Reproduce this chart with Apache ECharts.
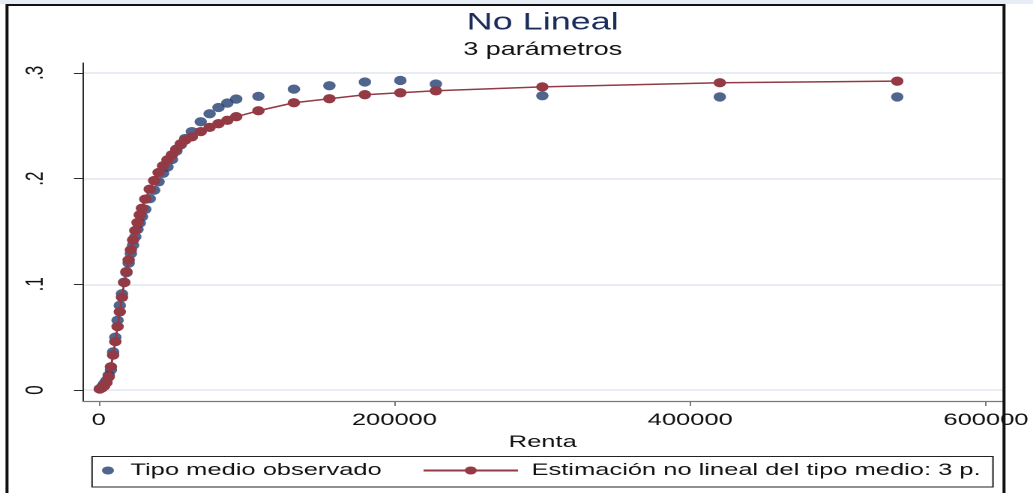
<!DOCTYPE html>
<html>
<head>
<meta charset="utf-8">
<script src="https://cdn.jsdelivr.net/npm/echarts@6/dist/echarts.min.js"></script>
<style>
  html, body { margin: 0; padding: 0; background: #ffffff; overflow: hidden; }
  /* the chart is laid out on a narrow canvas and widened to the page width */
  #chart { width: 689px; height: 493px; transform: scaleX(1.49927); transform-origin: 0 0; }
</style>
</head>
<body>
<div id="chart"></div>
<script>
// Renta (income) values of each observation
const renta = [750, 2250, 3750, 5250, 6750, 8250, 9750, 11250, 12750, 14250,
  15750, 17250, 18750, 20250, 21750, 23250, 24750, 26250, 27750, 29250,
  31500, 34500, 37500, 40500, 43500, 46500, 49500, 52500, 55500, 58500,
  63000, 69000, 75000, 81000, 87000, 93000,
  108000, 132000, 156000, 180000, 204000, 228000,
  300000, 420000, 540000];

// observed average rate
const tipoObservado = [0.001, 0.003, 0.006, 0.009, 0.014, 0.019, 0.036, 0.050, 0.066, 0.080,
  0.091, 0.102, 0.111, 0.120, 0.129, 0.137, 0.145, 0.152, 0.158, 0.164,
  0.171, 0.181, 0.189, 0.197, 0.205, 0.211, 0.218, 0.226, 0.232, 0.238,
  0.2445, 0.2538, 0.2614, 0.2673, 0.2715, 0.2753,
  0.2778, 0.2847, 0.2879, 0.2914, 0.2929, 0.2895,
  0.2784, 0.2773, 0.2773];

// non-linear (3 parameter) estimate of the average rate
const tipoEstimado = [0.001, 0.002, 0.004, 0.007, 0.0125, 0.022, 0.033, 0.0458, 0.060, 0.074,
  0.0877, 0.1016, 0.112, 0.123, 0.1326, 0.142, 0.1509, 0.1585, 0.1657, 0.172,
  0.1806, 0.190, 0.1982, 0.2058, 0.2121, 0.2178, 0.2225, 0.2279, 0.233, 0.2365,
  0.2395, 0.2445, 0.2485, 0.252, 0.2552, 0.2586,
  0.2642, 0.2718, 0.2756, 0.2794, 0.2812, 0.2831,
  0.2868, 0.2907, 0.2922];

const xTicks = [0, 200000, 400000, 600000];
const xTickLabels = ['0', '200000', '400000', '600000'];
const yTicks = [0, 0.1, 0.2, 0.3];
const yTickLabels = ['0', '.1', '.2', '.3'];

const nameObs = 'Tipo medio observado';
const nameEst = 'Estimación no lineal del tipo medio: 3 p.';

const FONT = '"Liberation Sans", Arial, sans-serif';
const NAVY = '#243f70';
const MAROON = '#933a45';

function pickLabel(ticks, labels, v) {
  for (let i = 0; i < ticks.length; i++) {
    if (Math.abs(ticks[i] - v) < 1e-9 * Math.max(1, Math.abs(v))) return labels[i];
  }
  return '';
}

const chart = echarts.init(document.getElementById('chart'), null, { renderer: 'canvas', devicePixelRatio: 2 });

chart.setOption({
  animation: false,
  backgroundColor: '#ffffff',
  title: {
    text: 'No Lineal',
    subtext: '3 parámetros',
    left: 362,
    top: 11,
    textAlign: 'center',
    padding: 0,
    itemGap: 6,
    textStyle: { fontFamily: FONT, fontSize: 24, fontWeight: 'normal', color: '#1c2d5c' },
    subtextStyle: { fontFamily: FONT, fontSize: 18, color: '#111111' }
  },
  grid: { left: 55.36, right: 20, top: 63, bottom: 92, containLabel: false },
  xAxis: {
    type: 'value',
    min: -10610,
    max: 611140,
    name: 'Renta',
    nameLocation: 'middle',
    nameGap: 26,
    nameTextStyle: { fontFamily: FONT, fontSize: 17, color: '#111111', verticalAlign: 'top' },
    axisLine: { show: true, onZero: false, lineStyle: { color: '#7a7a7a', width: 1.2 } },
    axisTick: { show: true, inside: false, length: 5, customValues: xTicks, lineStyle: { color: '#7a7a7a', width: 1 } },
    axisLabel: {
      customValues: xTicks,
      margin: 11,
      fontFamily: FONT, fontSize: 17, color: '#111111',
      formatter: (v) => pickLabel(xTicks, xTickLabels, v)
    },
    splitLine: { show: false }
  },
  yAxis: {
    type: 'value',
    min: -0.0104,
    max: 0.3094,
    axisLine: { show: true, onZero: false, lineStyle: { color: '#2a2a2a', width: 1 } },
    axisTick: { show: true, inside: false, length: 6, customValues: yTicks, lineStyle: { color: '#2a2a2a', width: 1 } },
    axisLabel: {
      customValues: yTicks,
      rotate: 90,
      margin: 23,
      fontFamily: FONT, fontSize: 17, color: '#111111',
      formatter: (v) => pickLabel(yTicks, yTickLabels, v)
    },
    splitLine: { show: true, lineStyle: { color: '#e1e6f0', width: 1.5 } }
  },
  legend: [
    {
      data: [nameObs],
      left: 68, top: 462, padding: 0,
      itemWidth: 8, itemHeight: 8,
      icon: 'circle',
      selectedMode: false,
      textStyle: { fontFamily: FONT, fontSize: 17, color: '#111111', padding: [0, 0, 0, 6] }
    },
    {
      data: [nameEst],
      left: 281.5, top: 462, padding: 0,
      itemWidth: 63, itemHeight: 10,
      selectedMode: false,
      textStyle: { fontFamily: FONT, fontSize: 17, color: '#111111', padding: [0, 0, 0, 4] }
    }
  ],
  graphic: [
    { type: 'rect', silent: true, z: 0, shape: { x: 0, y: 0, width: 689, height: 4 }, style: { fill: '#e6edf4' } },
    { type: 'rect', silent: true, z: 0, shape: { x: 61.4, y: 456.5, width: 600.9, height: 30.5 }, style: { fill: null, stroke: '#222222', lineWidth: 1 } },
    { type: 'rect', silent: true, z: 100, shape: { x: 4.67, y: 5, width: 665, height: 520 }, style: { fill: null, stroke: '#111111', lineWidth: 2 } }
  ],
  series: [
    {
      name: nameObs,
      type: 'scatter',
      data: renta.map((r, i) => [r, tipoObservado[i]]),
      symbol: 'circle',
      symbolSize: [8.3, 9.3],
      itemStyle: { color: NAVY },
      z: 2
    },
    {
      name: nameEst,
      type: 'line',
      data: renta.map((r, i) => [r, tipoEstimado[i]]),
      symbol: 'circle',
      symbolSize: [8.3, 9.3],
      showAllSymbol: true,
      itemStyle: { color: MAROON },
      lineStyle: { color: MAROON, width: 1.5 },
      z: 3
    }
  ]
});
</script>
</body>
</html>
